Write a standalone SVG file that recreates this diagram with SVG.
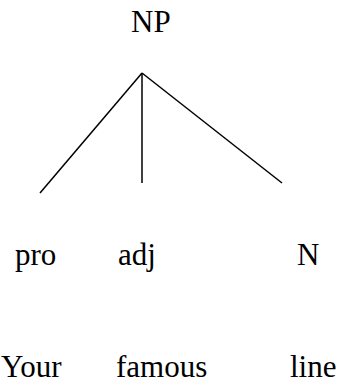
<svg xmlns="http://www.w3.org/2000/svg" width="340" height="383" viewBox="0 0 340 383">
<style>
text{font-family:"Liberation Serif","Times New Roman",serif;font-size:31px;fill:#000}
.e{stroke:#000;stroke-width:1.5;fill:none}
</style>
<rect width="340" height="383" fill="#fff"/>
<g id="connectors">
<line class="e" x1="142" y1="73" x2="40" y2="193"/>
<line class="e" x1="142" y1="73" x2="142" y2="183"/>
<line class="e" x1="142" y1="73" x2="282" y2="183"/>
</g>
<g id="NP"><text x="131" y="32">NP</text></g>
<g id="pro"><text x="15" y="265">pro</text></g>
<g id="adj"><text x="118" y="265">adj</text></g>
<g id="N"><text x="297" y="265">N</text></g>
<g id="Your"><text x="1" y="377">Your</text></g>
<g id="famous"><text x="116" y="377">famous</text></g>
<g id="line"><text x="290" y="377">line</text></g>
</svg>
